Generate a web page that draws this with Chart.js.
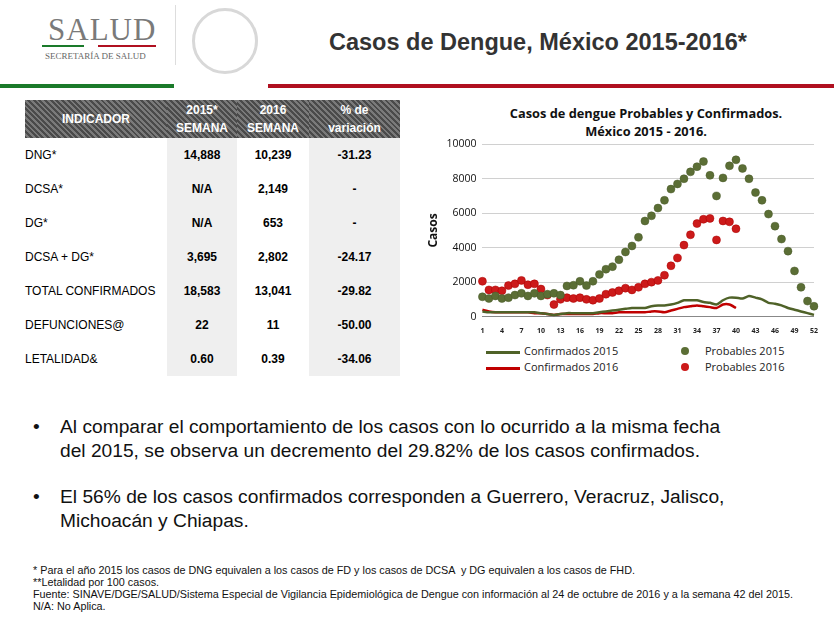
<!DOCTYPE html>
<html><head><meta charset="utf-8">
<script src="https://cdn.jsdelivr.net/npm/chart.js@4"></script>
<style>
body{margin:0;width:834px;height:621px;background:#fff;font-family:"Liberation Sans",Arial,sans-serif;position:relative;overflow:hidden}
.a{position:absolute}
table{border-collapse:collapse;font-size:12px}
td{height:34px;padding:0}
.hd td{height:38px;color:#fff;font-weight:bold;text-align:center;background:repeating-linear-gradient(45deg,#4a4a4a 0 2px,#7a7a7a 2px 4px);line-height:18px}
.g{background:#efefef}
.c{text-align:center;font-weight:bold}
</style></head><body>
<div class="a" style="left:48px;top:12px;font-family:'Liberation Serif',serif;font-size:31px;color:#7a7a7a;letter-spacing:1px">SALUD</div>
<div class="a" style="left:42px;top:45px;width:42px;height:2px;background:#1a7a2a"></div>
<div class="a" style="left:98px;top:45px;width:58px;height:2px;background:#b01020"></div>
<div class="a" style="left:45px;top:51px;font-family:'Liberation Serif',serif;font-size:9px;color:#666">SECRETARÍA DE SALUD</div>
<div class="a" style="left:175px;top:5px;width:1px;height:60px;background:#ddd"></div>
<div class="a" style="left:192px;top:8px;width:66px;height:66px;border-radius:50%;border:3px solid #d8d8d8;box-sizing:border-box"></div>
<div class="a" style="left:0;top:84px;width:174px;height:4px;background:#1a7a2a"></div>
<div class="a" style="left:268px;top:84px;width:566px;height:4px;background:#b01020"></div>
<div class="a" style="left:329px;top:29px;font-size:23.5px;font-weight:bold;color:#333">Casos de Dengue, México 2015-2016*</div>

<table class="a" style="left:25px;top:100px;width:375px">
<tr class="hd"><td style="width:142px">INDICADOR</td><td style="width:70px">2015*<br>SEMANA</td><td style="width:72px">2016<br>SEMANA</td><td>% de<br>variación</td></tr>
<tr><td>DNG*</td><td class="c g">14,888</td><td class="c">10,239</td><td class="c g">-31.23</td></tr>
<tr><td>DCSA*</td><td class="c g">N/A</td><td class="c">2,149</td><td class="c g">-</td></tr>
<tr><td>DG*</td><td class="c g">N/A</td><td class="c">653</td><td class="c g">-</td></tr>
<tr><td>DCSA + DG*</td><td class="c g">3,695</td><td class="c">2,802</td><td class="c g">-24.17</td></tr>
<tr><td>TOTAL CONFIRMADOS</td><td class="c g">18,583</td><td class="c">13,041</td><td class="c g">-29.82</td></tr>
<tr><td>DEFUNCIONES@</td><td class="c g">22</td><td class="c">11</td><td class="c g">-50.00</td></tr>
<tr><td>LETALIDAD&amp;</td><td class="c g">0.60</td><td class="c">0.39</td><td class="c g">-34.06</td></tr>
</table>

<div class="a" style="left:440px;top:104px;text-align:center;font-family:'Open Sans',sans-serif;font-weight:bold;font-size:12.8px;line-height:18px;color:#111;width:412px">Casos de dengue Probables y Confirmados.<br>México 2015 - 2016.</div>
<div class="a" style="left:426px;top:132px;width:394px;height:205px"><canvas id="c"></canvas></div>
<div class="a" style="left:486px;top:343px;font-family:'Open Sans',sans-serif;font-size:11px;line-height:16px;color:#222">
<div><span style="display:inline-block;width:34px;height:3px;background:#4f6228;vertical-align:middle;margin-right:4px"></span>Confirmados 2015</div>
<div><span style="display:inline-block;width:34px;height:3px;background:#c00000;vertical-align:middle;margin-right:4px"></span>Confirmados 2016</div></div>
<div class="a" style="left:665px;top:343px;font-family:'Open Sans',sans-serif;font-size:11px;line-height:16px;color:#222">
<div><span style="display:inline-block;width:8px;height:8px;border-radius:50%;background:#5b6e35;margin:0 16px 0 16px"></span>Probables 2015</div>
<div><span style="display:inline-block;width:8px;height:8px;border-radius:50%;background:#cc1a1a;margin:0 16px 0 16px"></span>Probables 2016</div></div>

<div class="a" style="left:33px;top:415px;font-size:19.2px;line-height:24px;color:#111">
<div style="position:relative;padding-left:27px"><span style="position:absolute;left:0">•</span>Al comparar el comportamiento de los casos con lo ocurrido a la misma fecha<br>del 2015, se observa un decremento del 29.82% de los casos confirmados.</div>
<div style="position:relative;padding-left:27px;margin-top:22px"><span style="position:absolute;left:0">•</span>El 56% de los casos confirmados corresponden a Guerrero, Veracruz, Jalisco,<br>Michoacán y Chiapas.</div></div>

<div class="a" style="left:33px;top:564px;font-size:10.8px;line-height:12px;color:#111">
* Para el año 2015 los casos de DNG equivalen a los casos de FD y los casos de DCSA &nbsp;y DG equivalen a los casos de FHD.<br>
**Letalidad por 100 casos.<br>
Fuente: SINAVE/DGE/SALUD/Sistema Especial de Vigilancia Epidemiológica de Dengue con información al 24 de octubre de 2016 y a la semana 42 del 2015.<br>
N/A: No Aplica.</div>

<script>
var weeks = [];
for (var w = 1; w <= 52; w++) weeks.push(String(w));
var probables2015 = [1150,1050,1200,1050,1100,1250,1350,1200,1350,1200,1300,1350,1250,1780,1820,2050,1800,2050,2450,2750,2900,3300,3750,4100,4600,5550,5850,6300,6750,7400,7700,8000,8400,8700,9000,8200,7000,8050,8750,9100,8600,8000,7200,6750,5950,5250,4500,3800,2650,1700,900,600];
var probables2016 = [2050,1550,1550,1500,1800,1900,2100,1850,1900,1600,1250,700,1000,1100,1050,1100,1000,950,1050,1300,1400,1500,1650,1550,1700,1900,2000,2100,2400,2950,3400,4150,4750,5400,5650,5700,4450,5550,5500,5100];
var confirmados2015 = [300,250,250,250,250,250,250,250,250,200,150,100,150,200,200,200,200,200,250,300,350,400,450,500,500,500,600,650,650,700,800,950,950,950,850,800,700,950,1100,1100,1050,1200,1100,1000,800,750,650,500,400,300,200,100];
var confirmados2016 = [400,300,250,250,250,250,250,250,200,200,150,100,150,150,150,150,150,150,200,200,200,250,250,250,250,250,300,300,250,350,450,550,600,650,600,550,500,700,700,500];

new Chart(document.getElementById("c"), {
  type: "line",
  data: {
    labels: weeks,
    datasets: [
      {label: "Confirmados 2015", data: confirmados2015, borderColor: "#4f6228", borderWidth: 2.5, pointRadius: 0, tension: 0.2},
      {label: "Confirmados 2016", data: confirmados2016, borderColor: "#c00000", borderWidth: 2.5, pointRadius: 0, tension: 0.2},
      {label: "Probables 2015", data: probables2015, showLine: false, pointRadius: 4, pointBackgroundColor: "#5b6e35", pointBorderColor: "#4a5a2a", pointBorderWidth: 0.5},
      {label: "Probables 2016", data: probables2016, showLine: false, pointRadius: 4, pointBackgroundColor: "#cc1a1a", pointBorderColor: "#a00", pointBorderWidth: 0.5}
    ]
  },
  options: {
    responsive: true, maintainAspectRatio: false, animation: false,
    layout: {padding: {right: 6, top: 4}},
    plugins: {legend: {display: false}, tooltip: {enabled: false}},
    scales: {
      x: {offset: false, grid: {display: false}, border: {color: "#888"},
          ticks: {autoSkip: false, maxRotation: 0, padding: 2, font: {size: 7, weight: "bold", family: "Open Sans"}, color: "#222",
                  callback: function (v, i) { return i % 3 === 0 ? weeks[i] : ""; }}},
      y: {min: 0, max: 10000, ticks: {stepSize: 2000, padding: 6, font: {size: 10.5, family: "Open Sans"}, color: "#111",
                  callback: function (v) { return String(v); }},
          grid: {color: "#d0d0d0", drawTicks: false}, border: {display: false},
          title: {display: true, text: "Casos", padding: 0, font: {size: 12, weight: "bold", family: "Open Sans"}, color: "#111"}}
    }
  }
});
</script>
</body></html>
